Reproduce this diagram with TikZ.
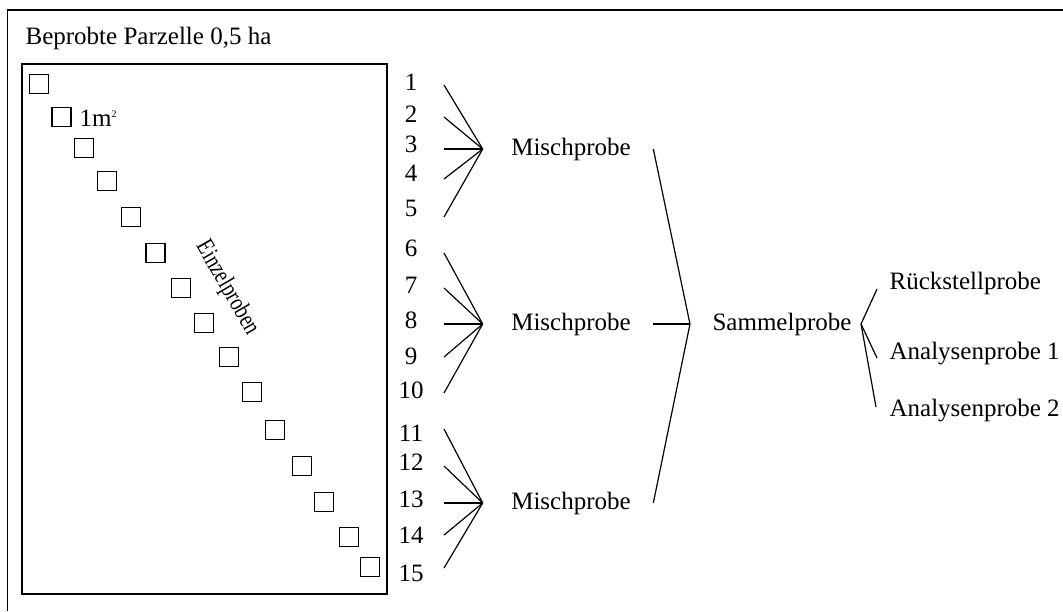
\documentclass[tikz,border=0pt]{standalone}
\usepackage{fontspec}
\setmainfont{Liberation Serif}
\usetikzlibrary{positioning}

\begin{document}
\begin{tikzpicture}[x=0.5pt,y=-0.5pt,line width=0.6pt,
    every node/.style={inner sep=0pt,font=\fontsize{12.5}{15}\selectfont},
    feld/.style={draw,minimum size=9.5pt},
    nr/.style={minimum width=12pt}]
  \useasboundingbox (0,0) rectangle (1063,611);

  % Rahmen und Parzelle
  \draw (1063,10) -- (7.5,10) -- (7.5,611);
  \node[anchor=base west] (titel) at (25,44) {Beprobte Parzelle 0,5 ha};
  \draw (22,64) rectangle (387,594);

  % Einzelproben (1 m^2 Flaechen)
  \foreach \i/\x/\y in {1/39/84,2/61.5/117,3/84/148,4/107/181,5/131/217,
      6/155.5/253,7/181/288,8/204/323,9/229/357,10/252/392,
      11/275/430,12/302/466,13/324/502,14/349/537,15/370/567}
    \node[feld] (sq\i) at (\x,\y) {};
  \node[anchor=base west] (qm) at (79,126) {1m\textsuperscript{\tiny 2}};
  \node[rotate=-60] (einzel) at (227,288) {\scalebox{0.78}[1]{Einzelproben}};

  % Mischproben
  \node (m1) at (571,149) {Mischprobe};
  \node (m2) at (571,324) {Mischprobe};
  \node (m3) at (571,503) {Mischprobe};
  \coordinate[left=14pt of m1] (j1);
  \coordinate[left=14pt of m2] (j2);
  \coordinate[left=14pt of m3] (j3);

  \foreach \i/\yn/\yl/\g in {1/82/85/1,2/114/117/1,3/144/149/1,4/173/179/1,5/208/217/1,
      6/248/253/2,7/285/288/2,8/320/324/2,9/356/357/2,10/390/393/2,
      11/433/429/3,12/462/466/3,13/499/503/3,14/535/535/3,15/573/568/3} {
    \node[nr] (n\i) at (411,\yn) {\i};
    \coordinate (s\i) at (444,\yl);
    \draw (s\i) -- (j\g);
  }

  % Sammelprobe
  \node (sp) at (782,324) {Sammelprobe};
  \coordinate[left=11pt of sp] (sj);
  \coordinate[right=4.5pt of sp] (sv);
  \coordinate[right=11pt of m1] (t1);
  \coordinate[right=11pt of m2] (t2);
  \coordinate[right=11pt of m3] (t3);
  \draw (t1) -- (sj) -- (t3);
  \draw (t2) -- (sj);

  % Aufteilung
  \node[anchor=west] (rs) at (889,283) {Rückstellprobe};
  \node[anchor=west] (a1) at (889,354) {Analysenprobe 1};
  \node[anchor=west] (a2) at (889,411) {Analysenprobe 2};
  \draw (sv) -- ([xshift=-6pt,yshift=-3pt]rs.west);
  \draw (sv) -- ([xshift=-6pt,yshift=-2pt]a1.west);
  \draw (sv) -- ([xshift=-6.5pt,yshift=2pt]a2.west);
\end{tikzpicture}
\end{document}
